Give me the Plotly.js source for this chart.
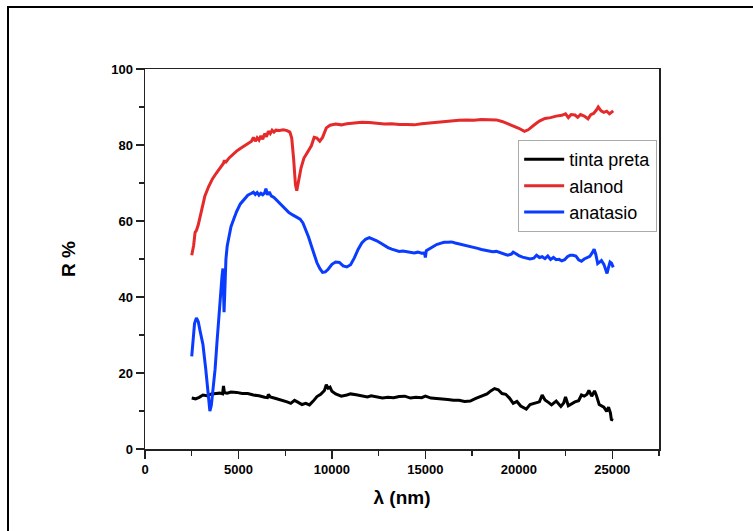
<!DOCTYPE html>
<html>
<head>
<meta charset="utf-8">
<script src="https://cdn.plot.ly/plotly-3.0.1.min.js"></script>
<style>
  html, body { margin: 0; padding: 0; background: #fff; }
  #chart { width: 753px; height: 531px; position: relative; }
  #frame { position: absolute; left: 7px; top: 6px; width: 800px; height: 600px;
           border-top: 2px solid #000; border-left: 2px solid #000; pointer-events: none; }
  #wrap { position: relative; width: 753px; height: 531px; overflow: hidden; }
</style>
</head>
<body>
<div id="wrap">
  <div id="chart"></div>
  <div id="frame"></div>
</div>
<script>
const seriesNames = ["tinta preta", "alanod", "anatasio"];

const xTinta = [2500,2700,2900,3100,3300,3500,3800,4000,4150,4200,4250,4400,4600,4900,5200,5500,5800,6100,6400,6550,6600,6700,7000,7300,7600,7800,8000,8150,8400,8600,8800,9000,9200,9400,9600,9700,9800,9900,10000,10200,10500,10800,11000,11300,11600,11900,12100,12400,12700,13000,13300,13600,13900,14200,14500,14800,15000,15300,15600,15900,16200,16500,16800,17100,17400,17700,18000,18300,18500,18700,18900,19100,19300,19500,19700,19900,20100,20400,20600,20900,21100,21250,21400,21600,21750,22000,22150,22250,22400,22500,22650,22800,23000,23200,23350,23500,23650,23750,23900,24050,24150,24300,24450,24550,24700,24800,24900,24950,25050];
const yTinta = [13.4,13.2,13.6,14.2,14.0,14.4,14.6,14.7,14.5,16.6,14.8,14.7,15.0,14.9,14.6,14.6,14.2,14.0,13.6,13.5,14.4,13.7,13.3,12.9,12.4,12.0,12.8,12.4,11.7,12.0,11.6,12.6,13.8,14.4,15.4,16.9,16.0,16.3,15.2,14.5,13.9,14.2,14.5,14.3,13.9,13.7,14.0,13.6,13.4,13.6,13.5,13.8,13.9,13.4,13.6,13.5,13.9,13.4,13.3,13.2,13.0,12.8,12.8,12.5,12.6,13.3,14.0,14.5,15.3,15.9,15.6,14.6,14.4,13.4,12.0,12.5,11.3,10.5,11.7,12.1,12.4,14.2,12.9,12.2,11.6,12.6,11.8,11.2,12.1,13.7,11.4,11.9,12.4,12.7,14.2,13.9,14.4,15.4,13.9,15.3,14.1,11.7,11.3,11.0,9.9,11.0,9.5,7.8,7.6];

const xAlanod = [2500,2600,2680,2750,2850,3000,3200,3400,3600,3800,4000,4200,4250,4300,4500,4700,4900,5100,5300,5500,5700,5800,5900,6000,6100,6200,6300,6400,6500,6600,6700,6800,6900,7000,7200,7400,7600,7750,7850,7950,8050,8120,8200,8350,8500,8700,8900,9050,9200,9350,9500,9700,9900,10200,10500,10800,11200,11600,12000,12400,12800,13200,13600,14000,14400,14800,15200,15600,16000,16400,16800,17200,17600,18000,18400,18800,19100,19400,19700,20000,20300,20500,20800,21100,21400,21700,22000,22300,22500,22650,22800,23000,23150,23300,23500,23700,23850,24000,24150,24250,24400,24550,24700,24850,24950,25050];
const yAlanod = [51.0,53.5,57.0,57.5,59.0,62.5,66.5,69.0,71.0,72.5,74.0,75.2,76.0,75.3,76.6,77.6,78.4,79.1,79.8,80.5,81.0,82.0,81.0,81.9,81.3,82.4,81.5,83.0,82.2,83.6,83.0,83.9,83.4,83.9,83.8,84.0,83.8,83.4,81.8,76.5,69.5,68.0,70.5,74.0,76.5,78.0,79.8,82.0,81.8,81.0,82.0,84.5,85.2,85.5,85.3,85.6,85.8,86.0,85.9,85.6,85.5,85.6,85.4,85.4,85.3,85.6,85.8,86.0,86.2,86.3,86.5,86.6,86.5,86.7,86.6,86.6,86.2,85.6,85.2,84.4,83.6,84.0,85.2,86.3,87.0,87.2,87.6,87.8,88.2,87.2,88.0,87.9,87.3,88.0,87.6,86.9,88.0,88.3,89.2,90.0,89.0,88.6,88.9,88.2,88.6,89.0];

const xAnatasio = [2500,2550,2650,2750,2850,2950,3100,3250,3380,3470,3550,3650,3750,3850,3950,4050,4120,4170,4200,4230,4260,4290,4330,4400,4500,4600,4750,4900,5100,5300,5500,5700,5800,5900,6000,6100,6200,6300,6400,6470,6550,6650,6750,6900,7100,7300,7500,7700,7900,8100,8300,8450,8600,8750,8900,9050,9200,9350,9500,9650,9800,10000,10200,10400,10600,10800,11000,11200,11400,11600,11800,12000,12200,12400,12600,12800,13000,13200,13400,13600,13800,14000,14200,14400,14600,14800,14950,15000,15050,15200,15400,15600,15800,16000,16200,16400,16600,16800,17000,17200,17400,17600,17800,18000,18200,18400,18600,18800,19000,19200,19400,19600,19700,19850,20000,20200,20400,20600,20800,20950,21100,21250,21400,21550,21700,21850,22000,22150,22300,22450,22600,22750,22900,23050,23200,23350,23500,23650,23800,23950,24030,24120,24220,24320,24420,24550,24650,24720,24800,24880,24960,25050];
const yAnatasio = [24.4,28.0,33.0,34.5,33.5,31.0,27.5,21.0,13.5,10.0,11.5,16.0,21.0,28.0,35.0,41.5,45.5,47.5,42.0,36.0,40.0,47.0,50.0,53.5,56.5,58.5,60.5,62.5,64.5,65.8,66.8,67.3,67.6,67.0,67.5,66.8,67.3,66.9,67.4,68.5,66.9,67.7,66.6,66.2,65.2,64.2,63.2,62.2,61.6,61.1,60.5,59.5,57.8,55.8,53.5,51.0,49.0,47.5,46.5,46.6,47.3,48.6,49.2,49.1,48.2,47.9,48.5,50.3,52.5,54.2,55.2,55.6,55.3,54.8,54.2,53.5,53.0,52.6,52.3,52.0,52.1,51.9,51.8,51.6,51.8,51.5,51.6,50.4,52.2,52.6,53.1,53.8,54.1,54.4,54.4,54.5,54.2,54.0,53.7,53.6,53.4,53.1,52.8,52.5,52.3,52.1,51.9,52.0,51.6,51.4,51.0,51.3,51.8,51.4,50.9,50.5,50.2,50.0,50.2,51.0,50.4,50.6,50.1,50.8,49.9,50.4,49.8,49.9,49.5,49.8,50.6,51.0,51.0,50.8,49.8,49.4,50.0,50.4,50.7,51.8,52.6,51.2,48.8,49.2,49.6,48.6,47.2,46.2,47.8,49.2,48.9,47.8];

const xTickVals = [0, 5000, 10000, 15000, 20000, 25000];
const yTickVals = [0, 20, 40, 60, 80, 100];

const lineW = 3;
const traces = [
  { x: xTinta, y: yTinta, name: seriesNames[0], mode: "lines", line: { color: "#000000", width: lineW } },
  { x: xAlanod, y: yAlanod, name: seriesNames[1], mode: "lines", line: { color: "#e42a2a", width: lineW } },
  { x: xAnatasio, y: yAnatasio, name: seriesNames[2], mode: "lines", line: { color: "#0a3cff", width: lineW } }
];

const FONT = "Liberation Sans, Arial, sans-serif";
const tickFont = { family: FONT, size: 13, color: "#000", weight: "bold" };
const titleFont = { family: FONT, size: 19, color: "#000", weight: "bold" };

const layout = {
  width: 753, height: 531,
  margin: { l: 145, r: 94, t: 69, b: 82 },
  paper_bgcolor: "#fff", plot_bgcolor: "#fff",
  showlegend: true,
  legend: {
    x: 0.726, y: 0.813, xanchor: "left", yanchor: "top",
    bgcolor: "#fff", bordercolor: "#aaaaaa", borderwidth: 1,
    font: { family: FONT, size: 18, color: "#000" },
    itemwidth: 40
  },
  xaxis: {
    range: [0, 27500], tickvals: xTickVals, ticktext: xTickVals.map(String),
    ticks: "outside", ticklen: 8, tickwidth: 1.5, tickcolor: "#222",
    minor: { dtick: 2500, tick0: 0, ticks: "outside", ticklen: 5, tickwidth: 1.2, tickcolor: "#222" },
    showline: true, linecolor: "#222", linewidth: 1.5, mirror: true,
    showgrid: false, zeroline: false, tickfont: tickFont,
    title: { text: "λ (nm)", font: titleFont, standoff: 14 }
  },
  yaxis: {
    range: [0, 100], tickvals: yTickVals, ticktext: yTickVals.map(String),
    ticks: "outside", ticklen: 8, tickwidth: 1.5, tickcolor: "#222",
    minor: { dtick: 10, tick0: 0, ticks: "outside", ticklen: 5, tickwidth: 1.2, tickcolor: "#222" },
    showline: true, linecolor: "#222", linewidth: 1.5, mirror: true,
    showgrid: false, zeroline: false, tickfont: tickFont,
    title: { text: "R %", font: titleFont, standoff: 30 }
  }
};

Plotly.newPlot("chart", traces, layout, { staticPlot: true, displayModeBar: false });
</script>
</body>
</html>
